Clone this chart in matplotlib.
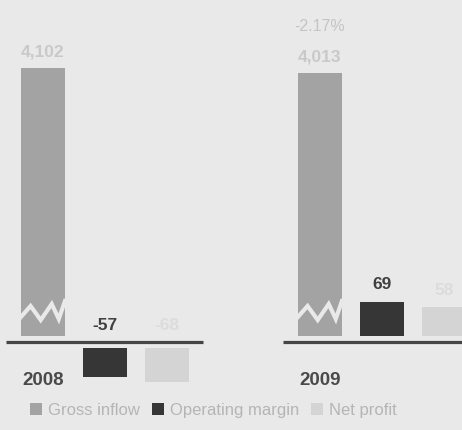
import numpy as np
import matplotlib
matplotlib.use("Agg")
import matplotlib.pyplot as plt
from matplotlib.patches import Patch

years = ["2008", "2009"]
series = ["Gross inflow", "Operating margin", "Net profit"]
gross_inflow = [4102, 4013]
operating_margin = [-57, 69]
net_profit = [-68, 58]

colors = ["#a3a3a3", "#363636", "#d4d4d4"]
label_colors = ["#c9c9c9", "#404040", "#dcdcdc"]
bg = "#e9e9e9"

plt.rcParams["font.family"] = ["Liberation Sans", "DejaVu Sans"]

# broken value axis: linear near zero, squeezed above the break
B, K = 100.0, 0.1115


def fwd(y):
    y = np.asarray(y, dtype=float)
    return np.where(y <= B, y, B + (y - B) * K)


def inv(y):
    y = np.asarray(y, dtype=float)
    return np.where(y <= B, y, B + (y - B) / K)


fig = plt.figure(figsize=(4.62, 4.30), dpi=100, facecolor=bg)
ax = fig.add_axes([0, 0, 1, 1])
ax.set_facecolor(bg)
ax.set_yscale("function", functions=(fwd, inv))
ax.set_xlim(-0.379, 1.289)
ax.set_ylim(-176, float(inv(684)))
ax.axis("off")

offsets = [-0.224, 0.0, 0.224]
width = 0.159
gap = 12  # space between baseline and bar ends

values = [gross_inflow, operating_margin, net_profit]
for i, vals in enumerate(values):
    for g, v in enumerate(vals):
        x = g + offsets[i]
        base = gap if v > 0 else -gap
        ax.bar(x, v, width=width, bottom=base, color=colors[i], zorder=2)
        txt = f"{v:,}"
        anchor = base + v if v > 0 else 0
        ax.annotate(txt, (x, anchor), xytext=(0, 6.5), textcoords="offset points",
                    ha="center", va="bottom", fontsize=12.5, fontweight="bold",
                    color=label_colors[i])

# zigzag break on the tall bars
zx = np.array([-0.5, -0.28, -0.05, 0.2, 0.36, 0.5]) * width
zy = np.array([50, 72, 44, 76, 46, 82])
for g in range(len(years)):
    ax.plot(g + offsets[0] + zx, zy, color=bg, lw=3.0, zorder=3, solid_joinstyle="miter")

# baselines and year labels
for g, yr in enumerate(years):
    ax.plot([g - 0.357, g + 0.354], [0, 0], color="#454545", lw=2.3, zorder=4,
            solid_capstyle="butt")
    ax.annotate(yr, (g + offsets[0], 0), xytext=(0, -28), textcoords="offset points",
                ha="center", va="center", fontsize=13.5, fontweight="bold", color="#4a4a4a")

# year-over-year change of gross inflow
change = (gross_inflow[1] - gross_inflow[0]) / gross_inflow[0] * 100
ax.annotate(f"{change:.2f}%", (1 + offsets[0], gap + gross_inflow[1]), xytext=(0, 28),
            textcoords="offset points", ha="center", va="bottom", fontsize=11.5,
            color="#c4c4c4")

handles = [Patch(facecolor=c, edgecolor="none") for c in colors]
leg = fig.legend(handles, series, loc="center left", bbox_to_anchor=(0.05, 0.045),
                 ncol=3, frameon=False, fontsize=12, handlelength=0.75, handleheight=0.75,
                 handletextpad=0.35, columnspacing=0.7, borderaxespad=0)
for t in leg.get_texts():
    t.set_color("#b5b5b5")

fig.savefig("out.png", dpi=100, facecolor=bg)
